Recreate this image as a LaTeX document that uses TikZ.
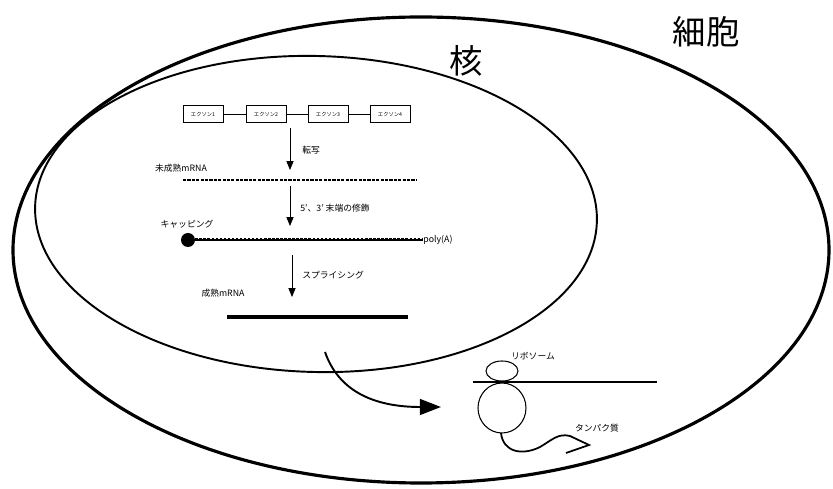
\documentclass[tikz,border=0pt]{standalone}
\usepackage{fontspec}
\setmainfont{Noto Sans CJK JP}
\usetikzlibrary{arrows,arrows.meta}

\begin{document}
\begin{tikzpicture}[x=0.02cm, y=-0.02cm,
    exonbox/.style={draw, line width=0.5pt, minimum width=0.8cm, minimum height=0.34cm,
                    inner sep=0pt, font=\fontsize{3}{3}\selectfont},
    smalllabel/.style={inner sep=0pt, font=\fontsize{5}{6}\selectfont},
    biglabel/.style={inner sep=0pt, font=\fontsize{19}{21}\selectfont},
    steparrow/.style={line width=0.5pt, -{Triangle[length=5pt,width=4pt]}}]
        \useasboundingbox (0,0) rectangle (833,489);
        % cell and nucleus
        \draw[line width=1.8pt]                                   (421,250) ellipse (408 and 233);
        \draw[line width=1.1pt, rotate around={-1.5:(316,214)}]   (316,214) ellipse (281 and 158);
        \node[biglabel] (cell)    at (706, 32) {細胞};
        \node[biglabel] (nucleus) at (466, 61) {核};

        % gene with four exons
        \node[exonbox] (ex1) at (203,114) {エクソン1};
        \node[exonbox] (ex2) at (266,114) {エクソン2};
        \node[exonbox] (ex3) at (328,114) {エクソン3};
        \node[exonbox] (ex4) at (390,114) {エクソン4};
        \draw[line width=0.5pt] (ex1) -- (ex2) (ex2) -- (ex3) (ex3) -- (ex4);

        % transcription
        \coordinate (t1) at (290,128);  \coordinate (t2) at (290,170);
        \draw[steparrow] (t1) -- (t2);
        \node[smalllabel, anchor=west] (tlab) at (302,150) {転写};

        % immature mRNA
        \node[smalllabel] (prelab) at (181,168) {未成熟mRNA};
        \coordinate (p1) at (183,180);  \coordinate (p2) at (417,180);
        \draw[line width=1.4pt, dash pattern=on 1.8pt off 0.7pt] (p1) -- (p2);

        % end modification
        \coordinate (m1) at (290,186);  \coordinate (m2) at (290,226);
        \draw[steparrow] (m1) -- (m2);
        \node[smalllabel, anchor=west] (mlab) at (300,208) {5'、3' 末端の修飾};

        % capped and polyadenylated mRNA
        \node[smalllabel] (caplab) at (187,224) {キャッピング};
        \node[circle, fill=black, inner sep=0pt, minimum size=0.28cm] (cap) at (188,240) {};
        \node[smalllabel, anchor=west] (polya) at (423,240) {poly(A)};
        \draw[line width=0.6pt] (cap) -- (polya.west);
        \draw[line width=0.9pt, dash pattern=on 1.4pt off 0.9pt] ([yshift=0.6pt]cap.east) -- ([yshift=0.6pt]polya.west);

        % splicing
        \coordinate (s1) at (292,255);  \coordinate (s2) at (292,297);
        \draw[steparrow] (s1) -- (s2);
        \node[smalllabel, anchor=west] (slab) at (302,275) {スプライシング};

        % mature mRNA
        \node[smalllabel] (matlab) at (223,293) {成熟mRNA};
        \coordinate (r1) at (227,317);  \coordinate (r2) at (408,317);
        \draw[line width=2.2pt] (r1) -- (r2);

        % export to the cytoplasm
        \coordinate (e1) at (325,352);  \coordinate (e2) at (441,407);
        \draw[line width=1.1pt, -{Triangle[length=12pt,width=9pt]}]
             (e1) .. controls (340,395) and (380,407) .. (e2);

        % translation on the ribosome
        \coordinate (mr1) at (473,382); \coordinate (mr2) at (657,382);
        \draw[line width=1.6pt] (mr1) -- (mr2);
        \draw[line width=0.6pt] (502,371) ellipse (16 and 10);
        \draw[line width=0.6pt] (502,408) ellipse (24 and 25);
        \node[smalllabel] (riblab) at (533,356) {リボソーム};
        \coordinate (pr) at (501,433);
        \draw[line width=1pt] (pr) .. controls (503,452) and (522,456) .. (540,447)
                                   .. controls (552,440) and (558,433) .. (570,436)
                                   -- (589,445) -- (566,453);
        \node[smalllabel] (protlab) at (597,428) {タンパク質};
\end{tikzpicture}
\end{document}
